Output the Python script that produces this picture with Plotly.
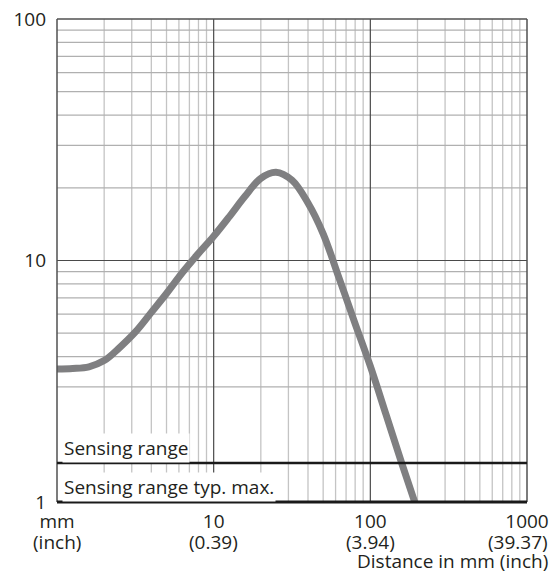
import numpy as np
import plotly.graph_objects as go

# ---- data ----
distance_mm = [1, 1.26, 1.6, 2.0, 2.5, 3.2, 4.0, 5.0, 6.3, 7.9, 10, 12.6, 15.8, 20, 25,
               31.6, 40, 50, 63, 79, 100, 126, 158, 192]
value = [3.55, 3.57, 3.63, 3.85, 4.35, 5.1, 6.1, 7.3, 8.9, 10.6, 12.6, 15.2, 18.4, 21.9, 23.2,
         21.5, 17.3, 12.9, 8.5, 5.6, 3.65, 2.3, 1.46, 1.0]

x_tick_vals = [1, 10, 100, 1000]
x_tick_text = ["mm", "10", "100", "1000"]
x_tick_inch = ["(inch)", "(0.39)", "(3.94)", "(39.37)"]
y_tick_vals = [1, 10, 100]
y_tick_text = ["1", "10", "100"]

x_major = [10, 100]
x_minor = [m * d for d in (1, 10, 100) for m in range(2, 10)]
y_major = [10]
y_minor = [m for m in range(3, 10)] + [m * 10 for m in range(2, 10)]

sensing_range_level = 1.45
label_sensing_pos = 1.673
label_sensing_max_pos = 1.153
x_title = "Distance in mm (inch)"
label_sensing = "Sensing range"
label_sensing_max = "Sensing range typ. max."

FONT = "Open Sans"
FS = 19
TXT = "#231f20"

fig = go.Figure()
fig.add_trace(go.Scatter(
    x=distance_mm, y=value, mode="lines",
    line=dict(color="#7f7f81", width=7, shape="spline", smoothing=1.0),
    hoverinfo="skip", showlegend=False,
))

shapes = []
for v in x_minor:
    shapes.append(dict(type="line", xref="x", yref="paper", x0=v, x1=v, y0=0, y1=1,
                       line=dict(color="#c4c4c4", width=1.3), layer="below"))
for v in y_minor:
    shapes.append(dict(type="line", xref="paper", yref="y", x0=0, x1=1, y0=v, y1=v,
                       line=dict(color="#b0b0b0", width=1.3), layer="below"))
for v in x_major:
    shapes.append(dict(type="line", xref="x", yref="paper", x0=v, x1=v, y0=0, y1=1,
                       line=dict(color="#4a4a4a", width=1.2), layer="below"))
for v in y_major:
    shapes.append(dict(type="line", xref="paper", yref="y", x0=0, x1=1, y0=v, y1=v,
                       line=dict(color="#4a4a4a", width=1.2), layer="below"))
# frame
for (a0, a1, b0, b1) in [(0, 1, 1, 1), (0, 0, 0, 1), (1, 1, 0, 1)]:
    shapes.append(dict(type="line", xref="paper", yref="paper", x0=a0, x1=a1, y0=b0, y1=b1,
                       line=dict(color="#505050", width=1.5)))
# sensing range lines
shapes.append(dict(type="line", xref="paper", yref="y", x0=0, x1=1,
                   y0=sensing_range_level, y1=sensing_range_level,
                   line=dict(color="#1a1a1a", width=2.5)))
shapes.append(dict(type="line", xref="paper", yref="paper", x0=0, x1=1, y0=0, y1=0,
                   line=dict(color="#1a1a1a", width=2.8)))

annotations = [
    dict(text=label_sensing, xref="paper", yref="y", x=0, y=np.log10(label_sensing_pos),
         xanchor="left", yanchor="middle", xshift=5, showarrow=False,
         bgcolor="white", font=dict(family=FONT, size=FS, color=TXT)),
    dict(text=label_sensing_max, xref="paper", yref="y", x=0, y=np.log10(label_sensing_max_pos),
         xanchor="left", yanchor="middle", xshift=5, showarrow=False,
         bgcolor="white", font=dict(family=FONT, size=FS, color=TXT)),
    dict(text=x_title, xref="paper", yref="paper", x=1, y=0, xanchor="right",
         yanchor="middle", xshift=23, yshift=-59, showarrow=False,
         font=dict(family=FONT, size=FS, color=TXT)),
]
for i, (v, t) in enumerate(zip(x_tick_vals, x_tick_inch)):
    last = i == len(x_tick_vals) - 1
    annotations.append(dict(
        text=t, xref="x", yref="paper", x=np.log10(v), y=0,
        xanchor="right" if last else "center", xshift=23 if last else 0,
        yanchor="middle", yshift=-40, showarrow=False,
        font=dict(family=FONT, size=FS, color=TXT)))

fig.update_layout(
    width=558, height=578,
    margin=dict(l=57, r=31, t=19, b=76),
    paper_bgcolor="white", plot_bgcolor="white",
    font=dict(family=FONT, size=FS, color=TXT),
    shapes=shapes, annotations=annotations,
    xaxis=dict(type="log", range=[0, 3], showgrid=False, zeroline=False, showline=False,
               automargin=False, ticks="", tickvals=x_tick_vals, ticktext=x_tick_text,
               ticklabelstandoff=6,
               tickfont=dict(family=FONT, size=FS, color=TXT)),
    yaxis=dict(type="log", range=[0, 2], showgrid=False, zeroline=False, showline=False,
               automargin=False, ticks="", tickvals=y_tick_vals, ticktext=y_tick_text,
               ticklabelstandoff=10,
               tickfont=dict(family=FONT, size=FS, color=TXT)),
)

fig.write_html("out.html", config={"displayModeBar": False},
               post_script="document.body.style.margin='0px';")
